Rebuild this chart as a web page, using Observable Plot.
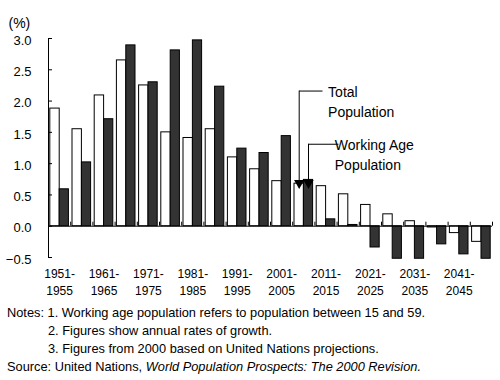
<!DOCTYPE html>
<html>
<head>
<meta charset="utf-8">
<script src="https://cdn.jsdelivr.net/npm/d3@7"></script>
<script src="https://cdn.jsdelivr.net/npm/@observablehq/plot@0.6"></script>
<style>
  body { margin: 0; background: #fff; font-family: "Liberation Sans", Arial, sans-serif; color: #000; }
  #notes { font-size: 12.8px; line-height: 18px; padding-left: 7px; white-space: nowrap; }
  #notes .ind { padding-left: 41px; }
</style>
</head>
<body>
<div id="chart"></div>
<div id="notes">
  <div>Notes: 1. Working age population refers to population between 15 and 59.</div>
  <div class="ind">2. Figures show annual rates of growth.</div>
  <div class="ind">3. Figures from 2000 based on United Nations projections.</div>
  <div>Source: United Nations, <i>World Population Prospects: The 2000 Revision.</i></div>
</div>
<script>
// Five-year periods
const periods = [
  "1951-1955", "1956-1960", "1961-1965", "1966-1970", "1971-1975",
  "1976-1980", "1981-1985", "1986-1990", "1991-1995", "1996-2000",
  "2001-2005", "2006-2010", "2011-2015", "2016-2020", "2021-2025",
  "2026-2030", "2031-2035", "2036-2040", "2041-2045", "2046-2050"
];
// Annual growth rate (%) of total population
const totalGrowth = [
  1.88, 1.55, 2.09, 2.65, 2.25, 1.50, 1.41, 1.55, 1.10, 0.91,
  0.72, 0.68, 0.64, 0.51, 0.34, 0.19, 0.08, -0.02, -0.11, -0.25
];
// Annual growth rate (%) of working age population
const workingGrowth = [
  0.59, 1.02, 1.71, 2.89, 2.30, 2.81, 2.97, 2.23, 1.24, 1.17,
  1.44, 0.74, 0.11, 0.02, -0.34, -0.52, -0.52, -0.29, -0.45, -0.52
];
// Tick labels shown on the x axis
const labelPeriods = [
  "1951-1955", "1961-1965", "1971-1975", "1981-1985", "1991-1995",
  "2001-2005", "2011-2015", "2021-2025", "2031-2035", "2041-2045"
];
// Y axis ticks
const yTicks = [-0.5, 0, 0.5, 1.0, 1.5, 2.0, 2.5, 3.0];
// Series callouts
const callouts = [
  {series: "total", label: "Total\nPopulation", period: "2006-2010", tipY: 0.61, labelX: 12.55, labelY: 2.16},
  {series: "working", label: "Working Age\nPopulation", period: "2006-2010", tipY: 0.61, labelX: 12.85, labelY: 1.31}
];

const rows = periods.map((p, i) => ({i, period: p, total: totalGrowth[i], working: workingGrowth[i]}));

// bar insets inside each period band (styles)
const inset = {
  total: {left: 1.8, right: 11},
  working: {left: 11.2, right: 1.8}
};
const centerDx = s => (inset[s].left - inset[s].right) / 2;

const calloutMarks = callouts.flatMap(c => {
  const xi = periods.indexOf(c.period) + 0.5;
  const dx = centerDx(c.series);
  return [
    Plot.ruleX([c], {x: () => xi, y1: "tipY", y2: "labelY", dx, stroke: "black", strokeWidth: 1}),
    Plot.link([c], {x1: () => xi, x2: "labelX", y1: "labelY", y2: "labelY", dx, stroke: "black", strokeWidth: 1}),
    Plot.dot([c], {x: () => xi, y: "tipY", dx, dy: -5, symbol: "triangle", rotate: 180, r: 3.8, fill: "black", stroke: "none"}),
    Plot.text([c], {x: "labelX", y: "labelY", text: "label", textAnchor: "start", lineAnchor: "top", dx: 1, dy: -8, fontSize: 14, lineHeight: 1.43})
  ];
});

const chart = Plot.plot({
  width: 500,
  height: 304,
  marginTop: 38,
  marginBottom: 47,
  marginLeft: 48,
  marginRight: 8,
  style: {fontFamily: "'Liberation Sans', Arial, sans-serif", background: "white", color: "black"},
  x: {type: "linear", domain: [0, periods.length]},
  y: {domain: [-0.5, 3.0]},
  marks: [
    Plot.rectY(rows, {x1: "i", x2: d => d.i + 1, y1: 0, y2: "total", fill: "white", stroke: "black", strokeWidth: 1,
      insetLeft: inset.total.left, insetRight: inset.total.right}),
    Plot.rectY(rows, {x1: "i", x2: d => d.i + 1, y1: 0, y2: "working", fill: "#333", stroke: "black", strokeWidth: 1,
      insetLeft: inset.working.left, insetRight: inset.working.right}),
    Plot.ruleY([0], {stroke: "black"}),
    Plot.ruleX(d3.range(1, periods.length + 1), {x: d => d, y1: 0, y2: 0, insetBottom: 4, stroke: "black"}),
    Plot.ruleX([0], {stroke: "black"}),
    // inward tick marks
    Plot.axisY({ticks: yTicks, tickFormat: () => "", tickSize: -4, tickPadding: 0, label: null, stroke: "black"}),
    // tick labels
    Plot.axisY({ticks: yTicks, tickFormat: d3.format(".1f"), tickSize: 0, tickPadding: 17, fontSize: 13, dy: 2, label: null}),
    Plot.axisX({ticks: labelPeriods.map(p => periods.indexOf(p) + 0.5),
      tickFormat: v => periods[Math.floor(v)].replace("-", "-\n"),
      tickSize: 0, tickPadding: 9, fontSize: 12, lineHeight: 1.4, label: null}),
    Plot.text(["(%)"], {frameAnchor: "top-left", text: d => d, dx: -40, dy: -20, textAnchor: "start", fontSize: 14}),
    ...calloutMarks
  ]
});
document.getElementById("chart").append(chart);
</script>
</body>
</html>
